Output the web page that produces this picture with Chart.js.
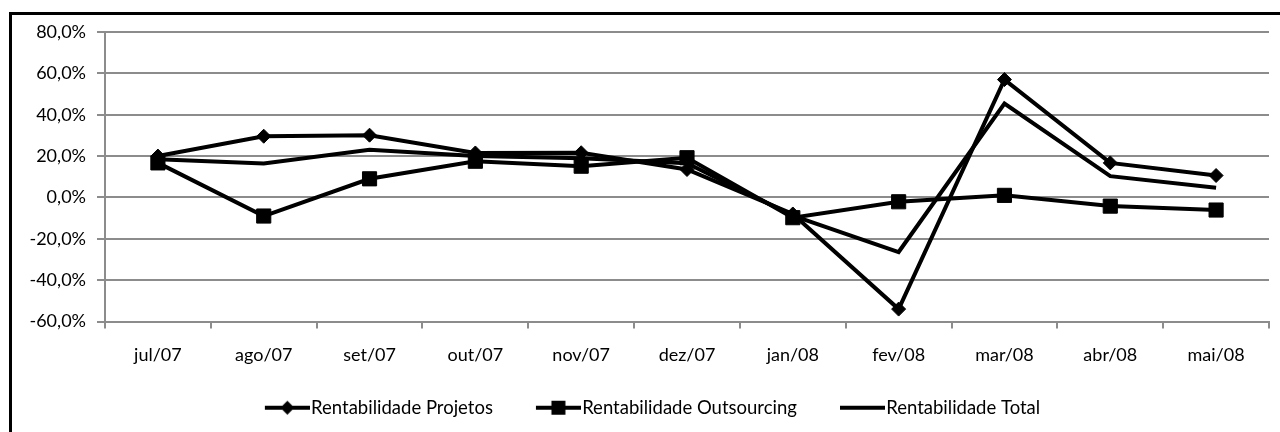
<!DOCTYPE html>
<html>
<head>
<meta charset="utf-8">
<script src="https://cdn.jsdelivr.net/npm/chart.js@4/dist/chart.umd.min.js"></script>
<style>
  html, body { margin: 0; padding: 0; background: #fff; }
  .wrap { position: relative; width: 1280px; height: 432px; overflow: hidden; }
  .frame {
    position: absolute; left: 9px; top: 12px; width: 1400px; height: 600px;
    border-left: 3px solid #000; border-top: 3px solid #000;
  }
  canvas { position: absolute; left: 0; top: 0; }
</style>
</head>
<body>
<div class="wrap">
  <div class="frame"></div>
  <canvas id="chart" width="1280" height="432"></canvas>
</div>
<script>
'use strict';

const MONTHS = ['jul/07', 'ago/07', 'set/07', 'out/07', 'nov/07', 'dez/07',
                'jan/08', 'fev/08', 'mar/08', 'abr/08', 'mai/08'];

const projetos    = [20.0, 29.6, 30.1, 21.5, 21.6, 13.5, -8.0, -54.0, 57.0, 16.7, 10.6];
const outsourcing = [16.7, -9.0,  9.0, 17.5, 15.1, 19.2, -9.8,  -2.1,  1.0, -4.2, -6.1];
const total       = [18.5, 16.4, 23.0, 20.0, 19.0, 16.5, -8.8, -26.4, 45.4, 10.3,  4.7];

const SERIES_NAMES = ['Rentabilidade Projetos', 'Rentabilidade Outsourcing', 'Rentabilidade Total'];

const FONT = 'Lato, "Open Sans", sans-serif';
const GRID = '#8c8c8c';
const BOX_W = 70;

// legend sample: line with the marker in the middle, like the spreadsheet legend
function legendIcon(marker) {
  const c = document.createElement('canvas');
  c.width = BOX_W + 16;
  c.height = 18;
  const g = c.getContext('2d');
  const x1 = c.width - 45, x2 = c.width, y = 9;
  g.strokeStyle = '#000';
  g.lineWidth = 4;
  g.beginPath(); g.moveTo(x1, y); g.lineTo(x2, y); g.stroke();
  const mx = (x1 + x2) / 2;
  g.fillStyle = '#000';
  if (marker === 'diamond') {
    g.beginPath();
    g.moveTo(mx, y - 7); g.lineTo(mx + 7, y); g.lineTo(mx, y + 7); g.lineTo(mx - 7, y);
    g.closePath(); g.fill();
  } else if (marker === 'square') {
    g.fillRect(mx - 7, y - 7, 14, 14);
  }
  return c;
}

const ICONS = [legendIcon('diamond'), legendIcon('square'), legendIcon('none')];

new Chart(document.getElementById('chart'), {
  type: 'line',
  data: {
    labels: MONTHS,
    datasets: [
      {
        label: SERIES_NAMES[0], data: projetos,
        borderColor: '#000', backgroundColor: '#000', borderWidth: 4,
        pointStyle: 'rectRot', pointRadius: 7, pointBorderWidth: 1,
        tension: 0,
      },
      {
        label: SERIES_NAMES[1], data: outsourcing,
        borderColor: '#000', backgroundColor: '#000', borderWidth: 4,
        pointStyle: 'rect', pointRadius: 10, pointBorderWidth: 1,
        tension: 0,
      },
      {
        label: SERIES_NAMES[2], data: total,
        borderColor: '#000', backgroundColor: '#000', borderWidth: 4,
        pointRadius: 0,
        tension: 0,
      },
    ],
  },
  options: {
    responsive: false,
    animation: false,
    layout: { padding: { left: 0, top: 32, right: 8, bottom: 5 } },
    scales: {
      x: {
        offset: true,
        grid: {
          offset: true, drawOnChartArea: false, drawTicks: true,
          tickLength: 7, color: GRID, lineWidth: 2,
        },
        border: { color: GRID, width: 2 },
        ticks: { color: '#000', padding: 16, font: { family: FONT, size: 18 }, maxRotation: 0 },
        afterFit: scale => { scale.height = 67; },
      },
      y: {
        min: -60, max: 80,
        grid: { color: GRID, lineWidth: 2, tickLength: 8 },
        border: { color: GRID, width: 2 },
        ticks: {
          stepSize: 20, color: '#000', padding: 11,
          font: { family: FONT, size: 18 },
          callback: v => v.toFixed(1).replace('.', ',') + '%',
        },
        afterFit: scale => { scale.width = 105; },
      },
    },
    plugins: {
      tooltip: { enabled: false },
      legend: {
        position: 'bottom',
        labels: {
          usePointStyle: true,
          pointStyleWidth: BOX_W,
          padding: 10,
          color: '#000',
          font: { family: FONT, size: 18.5 },
          generateLabels: chart => chart.data.datasets.map((ds, i) => ({
            text: ds.label,
            pointStyle: ICONS[i],
            fillStyle: '#000',
            strokeStyle: '#000',
            lineWidth: 0,
            hidden: false,
            datasetIndex: i,
          })),
        },
      },
    },
  },
});
</script>
</body>
</html>
